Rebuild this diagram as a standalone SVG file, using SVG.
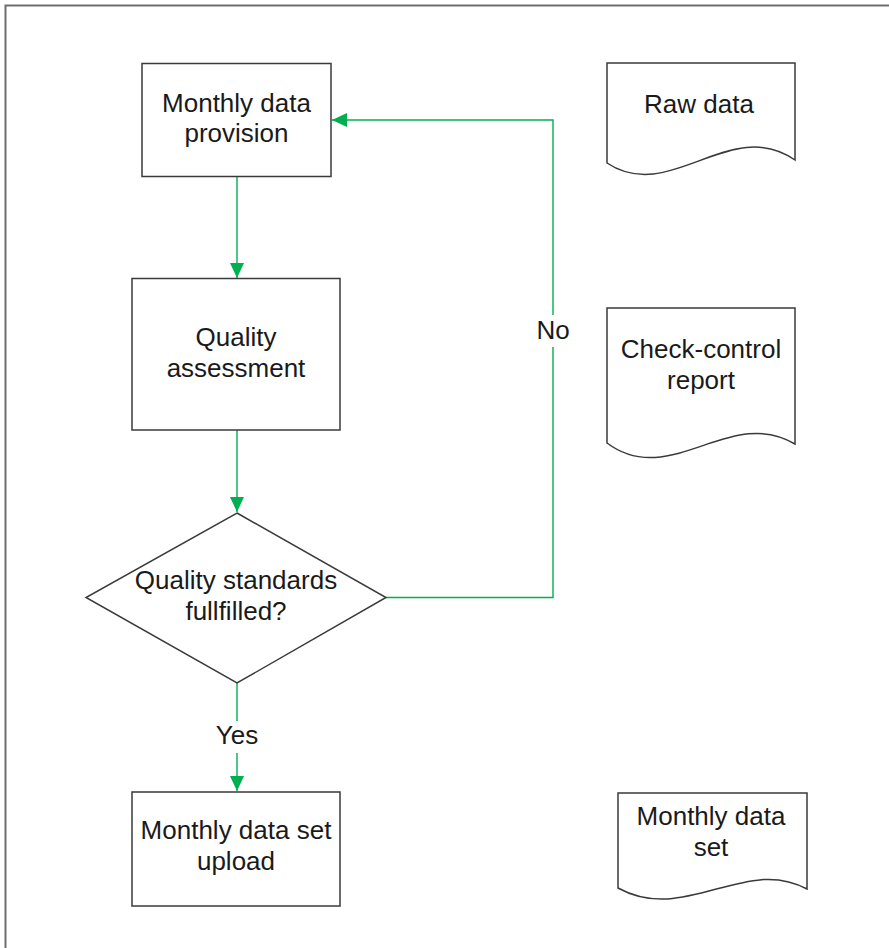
<svg xmlns="http://www.w3.org/2000/svg" width="889" height="948" viewBox="0 0 889 948">
<style>
.shape{fill:#ffffff;stroke:#3a3a3a;stroke-width:1.5}
.frame{fill:#ffffff;stroke:#6e6e6e;stroke-width:2}
.conn{fill:none;stroke:#00b050;stroke-width:1.4}
.lbl{font-family:"Liberation Sans",Arial,sans-serif;font-size:26px;fill:#1a1a1a;text-anchor:middle}
</style>
<defs>
<marker id="arr" viewBox="0 0 15 14" refX="15" refY="7" markerWidth="15" markerHeight="14" markerUnits="userSpaceOnUse" orient="auto">
<path d="M0,0 L15,7 L0,14 Z" fill="#00b050"/>
</marker>
</defs>
<rect class="frame" x="5.5" y="5.5" width="900" height="960"/>
<g id="connectors">
<path class="conn" d="M237,177 V278" marker-end="url(#arr)"/>
<path class="conn" d="M237,430 V512" marker-end="url(#arr)"/>
<path class="conn" d="M237,683 V721"/>
<path class="conn" d="M237,753 V791" marker-end="url(#arr)"/>
<path class="conn" d="M386,597.5 H553 V347"/>
<path class="conn" d="M553,315 V120 H332" marker-end="url(#arr)"/>
<text class="lbl" x="237" y="744">Yes</text>
<text class="lbl" x="553" y="339">No</text>
</g>
<g id="monthly-data-provision">
<rect class="shape" x="142" y="63.5" width="189" height="113"/>
<text class="lbl" x="236.5" y="112">Monthly data</text>
<text class="lbl" x="236.5" y="142">provision</text>
</g>
<g id="quality-assessment">
<rect class="shape" x="132" y="278.5" width="208" height="151.5"/>
<text class="lbl" x="236" y="346">Quality</text>
<text class="lbl" x="236" y="377">assessment</text>
</g>
<g id="quality-decision">
<path class="shape" d="M237,513 L386,597.5 L237,683 L86,597.5 Z"/>
<text class="lbl" x="236" y="589">Quality standards</text>
<text class="lbl" x="236" y="620">fullfilled?</text>
</g>
<g id="monthly-data-set-upload">
<rect class="shape" x="132" y="792" width="208" height="114"/>
<text class="lbl" x="236" y="839">Monthly data set</text>
<text class="lbl" x="236" y="870">upload</text>
</g>
<g id="raw-data">
<path class="shape" d="M607,63 H795 V160 C730,115 670,205 607,163 Z"/>
<text class="lbl" x="699" y="113">Raw data</text>
</g>
<g id="check-control-report">
<path class="shape" d="M607,308 H795 V444 C730,405 670,490 607,443 Z"/>
<text class="lbl" x="701" y="358">Check-control</text>
<text class="lbl" x="701" y="389">report</text>
</g>
<g id="monthly-data-set">
<path class="shape" d="M618,793 H807 V889 C745,855 685,925 618,888 Z"/>
<text class="lbl" x="711" y="825">Monthly data</text>
<text class="lbl" x="711" y="856">set</text>
</g>
</svg>
